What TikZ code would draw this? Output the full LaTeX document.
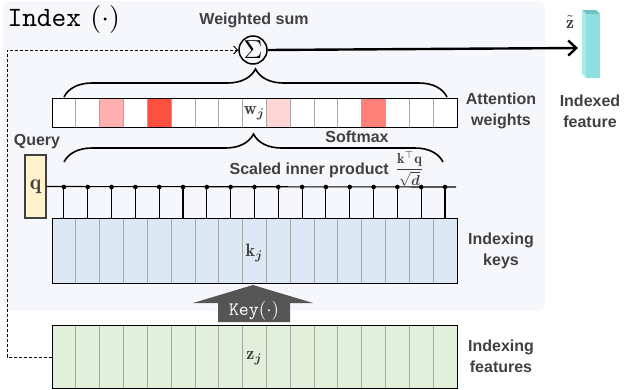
\documentclass[tikz,border=0pt]{standalone}
\usepackage{amsmath,amssymb,bm}
\usepackage{fontspec}
\setsansfont{Liberation Sans}
\usetikzlibrary{arrows.meta,decorations.pathreplacing}

\definecolor{bgpanel}{HTML}{F5F7FC}
\definecolor{txtgray}{HTML}{404040}
\definecolor{keyblue}{HTML}{DDE8F5}
\definecolor{featgreen}{HTML}{E2EFDA}
\definecolor{qyellow}{HTML}{FFF2CC}
\definecolor{wlight}{HTML}{FFB0B0}
\definecolor{wred}{HTML}{FF4F3F}
\definecolor{wpale}{HTML}{FFD6D6}
\definecolor{wsalmon}{HTML}{FF8078}
\definecolor{celldiv}{HTML}{A6A6A6}
\definecolor{ztfront}{HTML}{8EE0E0}
\definecolor{ztside}{HTML}{A8EAEA}
\definecolor{zttop}{HTML}{6CC2C2}
\definecolor{keydark}{HTML}{555555}

\tikzset{
  lbl/.style={font=\fontsize{16}{21}\selectfont\sffamily\bfseries, text=txtgray, align=center, inner sep=0pt},
  mathlbl/.style={font=\normalsize, scale=1.8, text=txtgray, inner sep=0pt},
  bar/.style={draw=black, line width=1.2pt, minimum width=405pt, anchor=north west, inner sep=0pt},
  divline/.style={draw=celldiv, line width=0.8pt},
  brc/.style={decorate, decoration={brace, amplitude=28pt}, line width=1.6pt},
  tick/.style={draw=black, line width=1.1pt},
}

\begin{document}
\begin{tikzpicture}[x=1pt,y=-1pt]
  \useasboundingbox (0,0) rectangle (624,389);
  % panel
  \fill[bgpanel, rounded corners=9pt] (3,1) rectangle (545,311);
  \def\cw{23.82}

  % attention weights
  \fill[white] (52,98) rectangle ++(405,29);
  \fill[wlight] ({52+2*\cw},98) rectangle ++(\cw,29);
  \fill[wred] ({52+4*\cw},98) rectangle ++(\cw,29);
  \fill[wpale] ({52+9*\cw},98) rectangle ++(\cw,29);
  \fill[wsalmon] ({52+13*\cw},98) rectangle ++(\cw,29);
  \foreach \i in {1,...,16}
    \draw[divline] ({52+\i*\cw},98) -- ({52+\i*\cw},127);
  \node[bar, minimum height=29pt] (wbar) at (52,98) {};
  \node[mathlbl] (wj) at ({52+8.5*\cw},113) {$\mathbf{w}_{\bm{j}}$};

  % indexing keys
  \fill[keyblue] (52,218) rectangle ++(405,65);
  \foreach \i in {1,...,16}
    \draw[divline] ({52+\i*\cw},218) -- ({52+\i*\cw},283);
  \node[bar, minimum height=65pt] (kbar) at (52,218) {};
  \node[mathlbl] (kj) at ({52+8.5*\cw},253) {$\mathbf{k}_{\bm{j}}$};

  % indexing features
  \fill[featgreen] (52,325) rectangle ++(405,63);
  \foreach \i in {1,...,16}
    \draw[divline] ({52+\i*\cw},325) -- ({52+\i*\cw},388);
  \node[bar, minimum height=63pt] (zbar) at (52,325) {};
  \node[mathlbl] (zj) at ({52+8.5*\cw},358) {$\mathbf{z}_{\bm{j}}$};

  % query and inner products
  \node[draw=txtgray, line width=1.1pt, fill=qyellow, minimum width=21pt, minimum height=63pt, inner sep=0pt] (q) at (35.5,186.5) {};
  \node[mathlbl, scale=1.2] at (q) {$\mathbf{q}$};
  \node[lbl] (query) at (37,142) {Query};
  \coordinate (qend) at (456,187);
  \draw[tick] (q.east) -- (qend);
  \foreach \i in {0,...,16} {
    \draw[tick] ({52+(\i+0.5)*\cw},187) -- ({52+(\i+0.5)*\cw},218);
    \fill ({52+(\i+0.5)*\cw},187) circle (2.3pt);
  }

  % braces
  \draw[brc] (64,162) -- (443,162);
  \draw[brc] (64,97) -- (447,97);
  \node[lbl, anchor=east] (scaled) at (389,170) {Scaled inner product};
  \node[mathlbl, scale=0.8, anchor=west] (frac) at (395,169) {$\dfrac{\mathbf{k}^{\top}\mathbf{q}}{\sqrt{\bm{d}}}$};
  \node[lbl] (softmax) at (357,137) {Softmax};

  % weighted sum
  \node[draw=black, circle, line width=1.5pt, minimum size=28pt, inner sep=0pt, fill=bgpanel] (sum) at (253,50) {};
  \node[font=\normalsize, scale=2.6, inner sep=0pt] at (sum) {$\Sigma$};
  \node[lbl] (wsum) at (254,20) {Weighted sum};

  % output feature
  \fill[zttop] (582,10) -- (596,10) -- (600,14) -- (586,14) -- cycle;
  \fill[ztside] (582,10) -- (586,14) -- (586,78) -- (582,74) -- cycle;
  \fill[ztfront] (586,14) rectangle (600,78);
  \coordinate (zt) at (578,48);
  \draw[line width=2.4pt, -{Straight Barb[length=8pt,width=15pt]}] (sum.east) -- (zt);
  \node[mathlbl] (ztl) at (570,22) {$\tilde{\mathbf{z}}$};

  % dashed skip
  \draw[densely dashed, line width=1pt, -{Straight Barb[length=4pt,width=8pt]}] (zbar.west) -- ++(-45,0) |- (sum.west);

  % key transform
  \fill[keydark] (218,322) -- (218,303) -- (193,303) -- (253,285) -- (313,303) -- (290,303) -- (290,322) -- cycle;
  \node[text=white, font=\normalsize\ttfamily\addfontfeatures{FakeBold=4}, scale=1.9, inner sep=0pt] (keyfn) at (254,311) {Key$(\cdot)$};

  % title
  \node[anchor=base west, inner sep=0pt, font=\normalsize, scale=2.8] (title) at (7,26) {{\ttfamily\addfontfeatures{FakeBold=4}Index} $(\cdot)$};

  % side labels
  \node[lbl] (attw) at (501,111) {Attention\\weights};
  \node[lbl] (idxk) at (501,251) {Indexing\\keys};
  \node[lbl] (idxf) at (501,356) {Indexing\\features};
  \node[lbl] (idxd) at (590,111) {Indexed\\feature};
\end{tikzpicture}
\end{document}
